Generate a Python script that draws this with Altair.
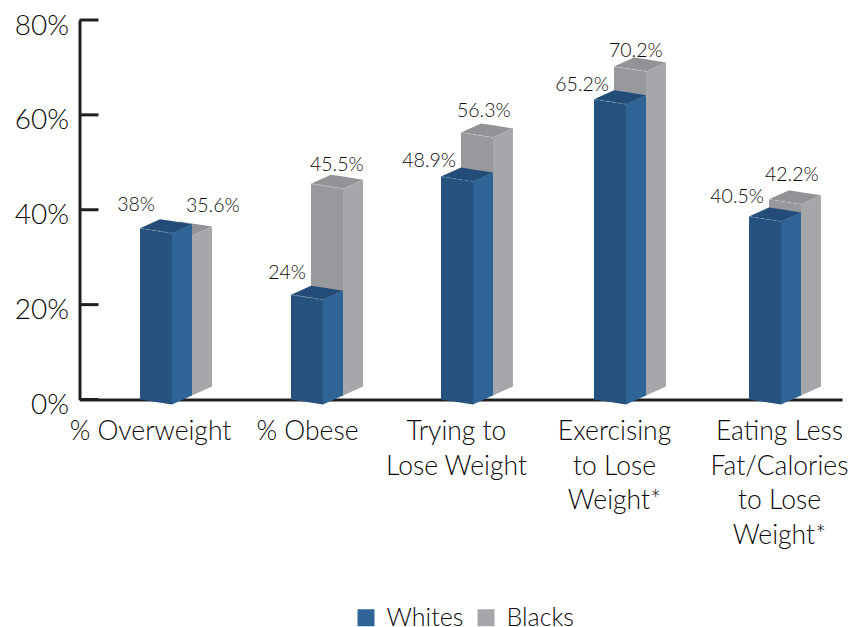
import altair as alt
import pandas as pd

# Survey percentages by measure and group
measures = ["% Overweight", "% Obese", "Trying to Lose Weight",
            "Exercising to Lose Weight*", "Eating Less Fat/Calories to Lose Weight*"]
whites = [38, 24, 48.9, 65.2, 40.5]
blacks = [35.6, 45.5, 56.3, 70.2, 42.2]
white_text = ["38%", "24%", "48.9%", "65.2%", "40.5%"]
black_text = ["35.6%", "45.5%", "56.3%", "70.2%", "42.2%"]

# Horizontal layout, in pixels of the x scale
slot_left = [140, 291, 441, 594, 749]
label_center = [150, 307, 456, 614, 779]
category_lines = [["% Overweight"], ["% Obese"], ["Trying to", "Lose Weight"],
                  ["Exercising", "to Lose", "Weight*"],
                  ["Eating Less", "Fat/Calories", "to Lose", "Weight*"]]
white_gap = [14, 13, 7, 5, 10]
black_gap = [25, 19, 21, 15, 24]
black_label_shift = [26, -1, -4, -5, -4]

# Extruded bar geometry
FACE = 32
DEPTH_X = 20
PX_PER_PCT = 379.5 / 80
DEPTH_Y = 9 / PX_PER_PCT
SKEW = 5 / PX_PER_PCT

COLORS = {
    "Whites": {"front": "#25527f", "side": "#2f6497", "top": "#234c78", "edge": "#7f9ab6"},
    "Blacks": {"front": "#98999d", "side": "#a6a7ab", "top": "#929396", "edge": "#c8c9cb"},
}
INK = "#231f20"
TEXT = "#0c0a0a"
FONT = "Lato"

fronts, sides, tops = [], [], []
for series, vals, depth in (("Whites", whites, 0), ("Blacks", blacks, 1)):
    for i, (left, v) in enumerate(zip(slot_left, vals)):
        x0 = left + depth * DEPTH_X
        x1 = x0 + FACE
        f = v + (depth - 1) * DEPTH_Y      # front-left corner of the top
        b = depth * DEPTH_Y                # front-left corner of the base
        key = f"{series}{i}"
        fronts += [dict(bar=key, series=series, x=x0, y=f, y2=b),
                   dict(bar=key, series=series, x=x1, y=f - SKEW, y2=b - SKEW)]
        sides += [dict(bar=key, series=series, x=x1, y=f - SKEW, y2=b - SKEW),
                  dict(bar=key, series=series, x=x1 + DEPTH_X, y=f - SKEW + DEPTH_Y, y2=b - SKEW + DEPTH_Y)]
        back = f + DEPTH_Y
        run = SKEW / FACE
        tops += [dict(bar=key, series=series, x=x0, y=f, y2=f),
                 dict(bar=key, series=series, x=x0 + DEPTH_X, y=back, y2=f - run * DEPTH_X),
                 dict(bar=key, series=series, x=x1, y=back - run * (FACE - DEPTH_X), y2=f - SKEW),
                 dict(bar=key, series=series, x=x1 + DEPTH_X, y=back - SKEW, y2=back - SKEW)]

fronts, sides, tops = map(pd.DataFrame, (fronts, sides, tops))

x_scale = alt.Scale(domain=[79.5, 842], nice=False, zero=False)
y_scale = alt.Scale(domain=[0, 80], nice=False, zero=False)
color_scale = alt.Scale(domain=["Whites", "Blacks"],
                        range=[COLORS["Whites"]["side"], COLORS["Blacks"]["side"]])

label_map = {str(c): lines for c, lines in zip(label_center, category_lines)}
label_expr = "{" + ",".join(
    "'%s':[%s]" % (k, ",".join("'%s'" % s for s in v)) for k, v in label_map.items()
) + "}[datum.label]"

x_enc = alt.X("x:Q", scale=x_scale, axis=alt.Axis(
    values=label_center, labelExpr=label_expr, title=None, grid=False, ticks=False,
    domainColor=INK, domainWidth=3, labelFont=FONT, labelFontSize=26.5, labelFontWeight=300,
    labelColor=TEXT, labelPadding=19, labelLineHeight=34.5, labelBaseline="top",
    labelAlign="center", labelOverlap=False, labelFlush=False, labelBound=False, format="d"))
y_enc = alt.Y("y:Q", scale=y_scale, axis=alt.Axis(
    values=[0, 20, 40, 60, 80], format=".0f", labelExpr="datum.label + '%'", title=None,
    grid=False, ticks=False, domainColor=INK, domainWidth=3, labelFont=FONT,
    labelFontSize=28, labelFontWeight=300, labelColor=TEXT, labelPadding=11, labelOffset=6,
    labelOverlap=False, labelFlush=False, labelBound=False))


def face(df, series, part):
    data = df[df.series == series]
    mark = alt.Chart(data).mark_area(clip=False, interpolate="linear")
    if part == "side":
        color = alt.Color("series:N", scale=color_scale, legend=alt.Legend(
            title=None, orient="none", legendX=274, legendY=585, direction="horizontal",
            columns=2, symbolType="square", symbolSize=289, symbolStrokeWidth=0,
            labelFont=FONT, labelFontSize=25, labelFontWeight=300, labelColor=TEXT, labelOffset=8,
            columnPadding=10, padding=0))
    else:
        color = alt.value(COLORS[series][part])
    return mark.encode(x=x_enc, y=y_enc, y2="y2:Q", detail="bar:N", color=color)


def top_edge(series):
    # Faint dashed highlight where the top meets the front
    return alt.Chart(fronts[fronts.series == series]).mark_line(
        color=COLORS[series]["edge"], strokeWidth=0.7, strokeDash=[4, 2]
    ).encode(x=x_enc, y=y_enc, detail="bar:N")


tick_values = pd.DataFrame({"y": [0, 20, 40, 60, 80]})
y_ticks = alt.Chart(tick_values).mark_rule(color=INK, strokeWidth=3).encode(
    x=alt.value(0), x2=alt.value(19), y=y_enc)

value_labels = pd.DataFrame(
    [dict(t=t, x=left + 15, y=v + g / PX_PER_PCT, align="right")
     for t, left, v, g in zip(white_text, slot_left, whites, white_gap)]
    + [dict(t=t, x=left + DEPTH_X + s, y=v + g / PX_PER_PCT, align="left")
       for t, left, v, g, s in zip(black_text, slot_left, blacks, black_gap, black_label_shift)])


def text_layer(align):
    return alt.Chart(value_labels[value_labels["align"] == align]).mark_text(
        font=FONT, fontSize=19.5, fontWeight=300, color=TEXT, align=align, baseline="middle").encode(
        x=x_enc, y=y_enc, text="t:N")


chart = alt.layer(
    face(fronts, "Blacks", "front"), face(tops, "Blacks", "top"), face(sides, "Blacks", "side"),
    top_edge("Blacks"),
    y_ticks,
    face(fronts, "Whites", "front"), face(tops, "Whites", "top"), face(sides, "Whites", "side"),
    top_edge("Whites"),
    text_layer("right"), text_layer("left"),
).properties(
    width=762.5, height=379.5, background="white",
    padding={"left": 79.5, "top": 20, "right": 13, "bottom": 227.5},
    autosize=alt.AutoSizeParams(type="none"),
).configure_view(stroke=None)

chart.save("out.html", embed_options={"renderer": "svg", "actions": False})
